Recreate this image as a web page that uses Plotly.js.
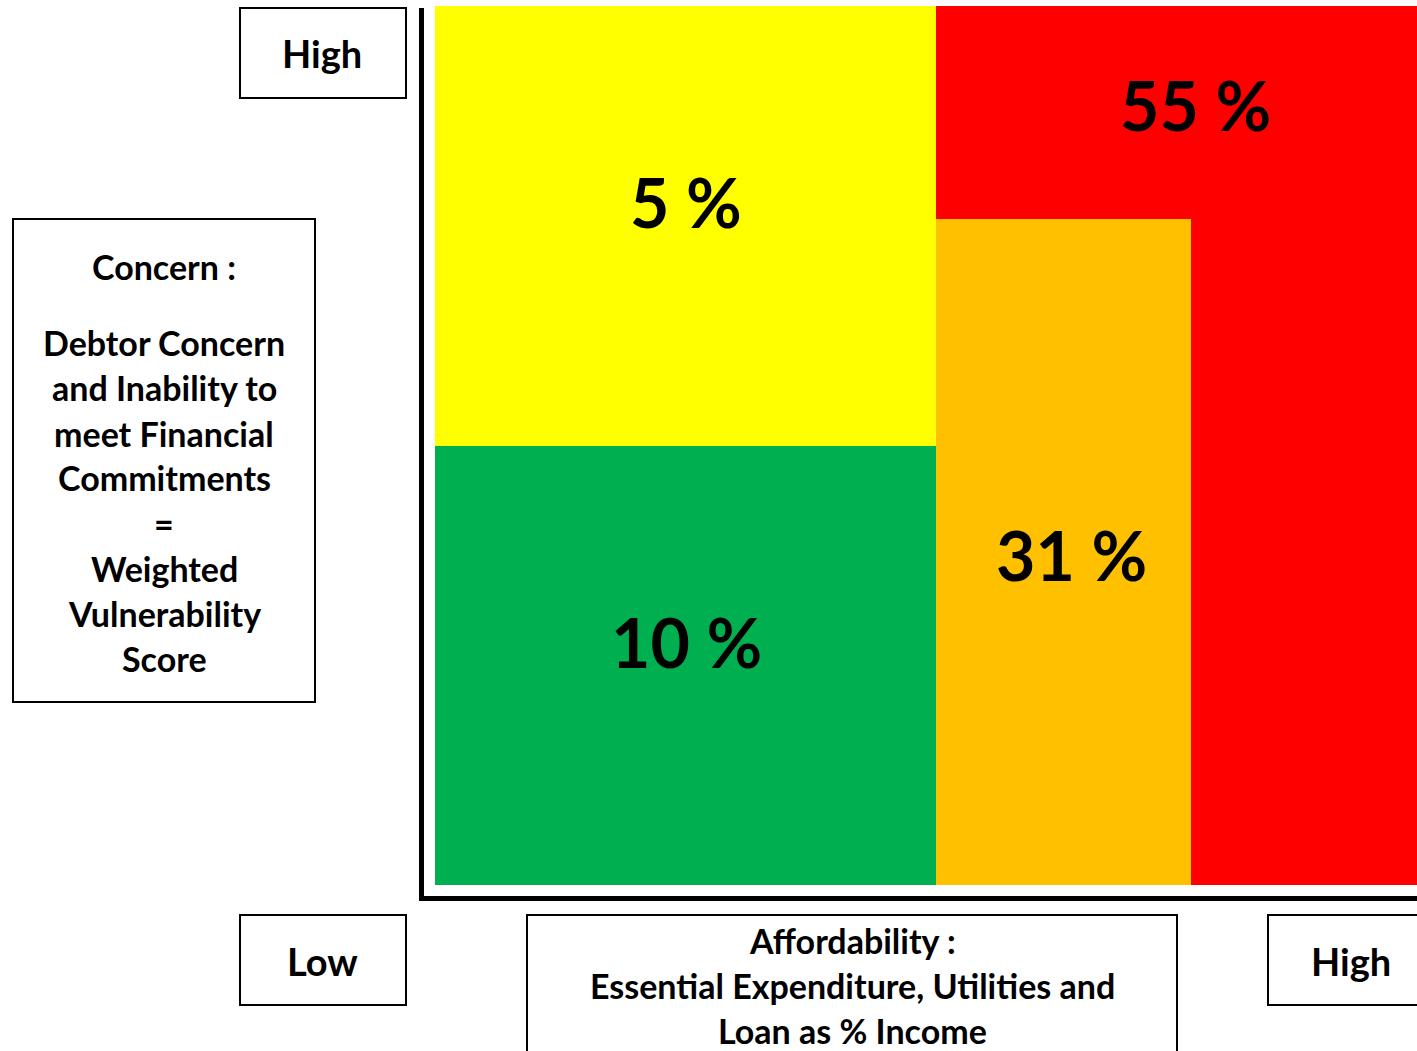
<!DOCTYPE html>
<html>
<head>
<meta charset="utf-8">
<script src="https://cdn.plot.ly/plotly-3.0.1.min.js"></script>
<style>
  html, body { margin: 0; padding: 0; background: #ffffff; }
  #chart { width: 1417px; height: 1051px; }
</style>
</head>
<body>
<div id="chart"></div>
<script>
// Debtor segments on the affordability (x) / concern (y) grid, both 0-100
const segmentNames = ['Low concern, affordable', 'High concern, affordable', 'Severe', 'Stretched'];
const segmentShare = [10, 5, 55, 31];          // % of debtors in each segment
const affordFrom   = [0, 0, 51, 51];
const affordTo     = [51, 51, 100, 77];
const concernFrom  = [0, 50, 0, 0];
const concernTo    = [50, 100, 100, 75.8];

const segmentColors = ['#00B050', '#FFFF00', '#FF0000', '#FFC000'];
// where each percentage label sits, in axis units
const labelX = [25.6, 25.6, 77.4, 64.8];
const labelY = [27.7, 77.8, 88.8, 37.6];

const FONT = 'Lato, "Open Sans", "DejaVu Sans", sans-serif';

// plot area in page pixels
const L = 435, R = 1417, T = 6, B = 885;
const W = 1417, H = 1051;
const px = x => (x - L) / (R - L);
const py = y => (B - y) / (B - T);

const traces = segmentNames.map((name, i) => ({
  type: 'bar',
  name: name,
  x: [(affordFrom[i] + affordTo[i]) / 2],
  width: [affordTo[i] - affordFrom[i]],
  base: [concernFrom[i]],
  y: [concernTo[i] - concernFrom[i]],
  marker: { color: segmentColors[i], line: { width: 0 } },
  hovertemplate: name + ': ' + segmentShare[i] + ' %<extra></extra>',
  showlegend: false
}));

const annotations = segmentShare.map((v, i) => ({
  x: labelX[i], y: labelY[i], xref: 'x', yref: 'y',
  text: '<b>' + v + ' %</b>', showarrow: false,
  font: { family: FONT, size: 68, color: '#000000' },
  xanchor: 'center', yanchor: 'middle'
}));

function boxText(text, cx, cy, size) {
  annotations.push({
    x: px(cx), y: py(cy), xref: 'paper', yref: 'paper',
    text: '<b>' + text + '</b>', showarrow: false,
    font: { family: FONT, size: size, color: '#000000' },
    xanchor: 'center', yanchor: 'middle'
  });
}

// axis end labels
boxText('High', 322, 53, 38);
boxText('Low', 322, 961, 38);
boxText('High', 1351, 961, 38);

// concern description
boxText('Concern :', 164, 266, 34);
const concernLines = ['Debtor Concern', 'and Inability to', 'meet Financial', 'Commitments',
                      '=', 'Weighted', 'Vulnerability', 'Score'];
concernLines.forEach((t, i) => boxText(t, 164, 343 + i * 45, 34));

// affordability description
const affordLines = ['Affordability :', 'Essential Expenditure, Utilities and', 'Loan as % Income'];
affordLines.forEach((t, i) => boxText(t, 852, 941 + i * 44.5, 34));

function rect(x0, y0, x1, y1) {
  return {
    type: 'rect', xref: 'paper', yref: 'paper',
    x0: px(x0), x1: px(x1), y0: py(y0), y1: py(y1),
    line: { color: '#000000', width: 2 }, fillcolor: 'rgba(0,0,0,0)'
  };
}
function line(x0, y0, x1, y1, w) {
  return {
    type: 'line', xref: 'paper', yref: 'paper',
    x0: px(x0), x1: px(x1), y0: py(y0), y1: py(y1),
    line: { color: '#000000', width: w }
  };
}

const shapes = [
  rect(240, 8, 406, 98),
  rect(13, 219, 315, 702),
  rect(240, 915, 406, 1005),
  rect(527, 915, 1177, 1070),
  rect(1268, 915, 1440, 1005),
  line(421.5, 8, 421.5, 900, 5),
  line(419, 898.5, 1417, 898.5, 5)
];

const layout = {
  width: W, height: H,
  margin: { l: L, r: W - R, t: T, b: H - B, pad: 0 },
  paper_bgcolor: '#ffffff', plot_bgcolor: '#ffffff',
  barmode: 'overlay', bargap: 0,
  showlegend: false,
  xaxis: { range: [0, 100], visible: false, fixedrange: true },
  yaxis: { range: [0, 100], visible: false, fixedrange: true },
  annotations: annotations,
  shapes: shapes
};

Plotly.newPlot('chart', traces, layout, { displayModeBar: false, staticPlot: true });
</script>
</body>
</html>
